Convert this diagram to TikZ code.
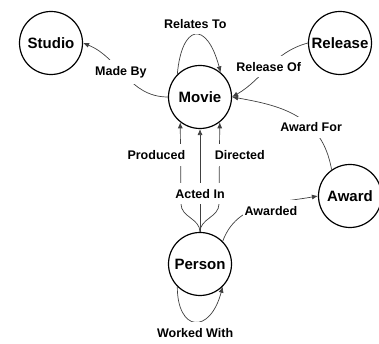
\documentclass[tikz,border=0pt]{standalone}
\usepackage{fontspec}
\setmainfont{Liberation Sans}
\usetikzlibrary{arrows.meta}

\begin{document}
\begin{tikzpicture}[
    x=1pt, y=1pt,
    entity/.style={circle, draw, line width=1.2pt, minimum size=63pt, inner sep=0pt, font=\fontsize{15}{18}\selectfont\bfseries},
    rel/.style={-{Latex[length=6pt, width=5pt]}, black!75, line width=0.7pt},
    lbl/.style={fill=white, text=black, inner xsep=2pt, inner ysep=6pt, font=\fontsize{12.5}{15}\selectfont\bfseries}
]
\useasboundingbox (0,0) rectangle (379,344);

\node[entity] (Studio) at (51,301) {Studio};
\node[entity] (Movie) at (200,247) {Movie};
\node[entity] (Release) at (340,301) {Release};
\node[entity] (Award) at (350,148) {Award};
\node[entity] (Person) at (200,80) {Person};

\draw[rel] (Movie.west) to[out=180, in=-22] node[lbl, pos=0.55] {Made By} (Studio.east);
\draw[rel] (Movie.135) .. controls +(85:50) and +(105:55) .. node[lbl, above] {Relates To} (Movie.50);
\draw[rel] (Release.west) to[out=195, in=30] node[lbl] {Release Of} (Movie.east);
\draw[rel] (Award.125) .. controls +(100:55) and +(-10:50) .. node[lbl, pos=0.35] {Award For} (Movie.east);

\draw[rel] (Person.north) to[out=90, in=-90] ++(-19,28) -- node[lbl, pos=0.6, anchor=east, xshift=7pt] {Produced} (Movie.232);
\draw[rel] (Person.north) to[out=90, in=-90] ++(19,28) -- node[lbl, pos=0.6, anchor=west, xshift=-7pt] {Directed} (Movie.-52);
\draw[rel] (Person.north) -- node[lbl, pos=0.37] {Acted In} (Movie.south);

\draw[rel] (Person.45) to[out=70, in=190] node[lbl, pos=0.6, anchor=north, yshift=4pt] {Awarded} (Award.west);
\draw[rel] (Person.-135) .. controls +(-90:45) and +(-105:50) .. node[lbl, below] {Worked With} (Person.-45);
\end{tikzpicture}
\end{document}
